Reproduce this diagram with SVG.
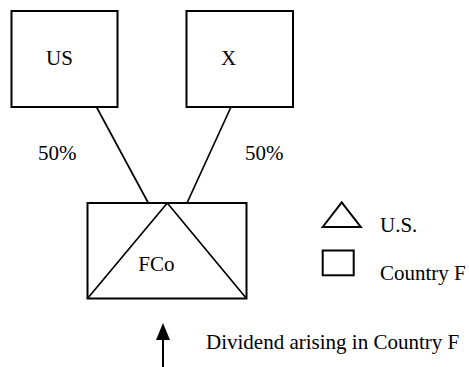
<svg xmlns="http://www.w3.org/2000/svg" width="469" height="367" viewBox="0 0 469 367">
<style>
.b{fill:none;stroke:#000;stroke-width:2}
.l{fill:none;stroke:#000;stroke-width:1.7}
text{font-family:"Liberation Serif","Times New Roman",serif;font-size:21px;fill:#000}
</style>
<defs>
<marker id="ah" markerWidth="14" markerHeight="17" refX="7" refY="0" orient="auto" markerUnits="userSpaceOnUse" viewBox="0 0 14 17">
<path d="M0,17 L7,0 L14,17 Z" fill="#000"/>
</marker>
</defs>
<rect width="469" height="367" fill="#fff"/>
<g id="connectors">
<line class="l" x1="96.5" y1="107" x2="148.3" y2="203"/>
<line class="l" x1="231" y1="107" x2="187" y2="203"/>
</g>
<g id="US">
<rect class="b" x="11.5" y="11" width="106" height="96"/>
<text x="46" y="64.5">US</text>
</g>
<g id="X">
<rect class="b" x="186.5" y="11" width="106.5" height="96"/>
<text x="221" y="64.5">X</text>
</g>
<text x="38" y="160">50%</text>
<text x="245" y="160">50%</text>
<g id="FCo">
<rect class="b" x="87.5" y="203" width="159" height="95.5"/>
<polyline class="l" points="87.5,298.5 167.3,203 246.5,298.5"/>
<text x="138.3" y="270.7">FCo</text>
</g>
<g id="legend">
<polygon class="b" points="322.7,227 341.7,202.5 360.8,227"/>
<text x="380" y="232.3">U.S.</text>
<rect class="b" x="322.7" y="250.5" width="31" height="24.8"/>
<text x="380" y="280">Country F</text>
</g>
<g id="dividend">
<line x1="163" y1="367" x2="163" y2="340" stroke="#000" stroke-width="2"/>
<path d="M156,340 L163,323 L170,340 Z" fill="#000"/>
<text x="206" y="349">Dividend arising in Country F</text>
</g>
</svg>
